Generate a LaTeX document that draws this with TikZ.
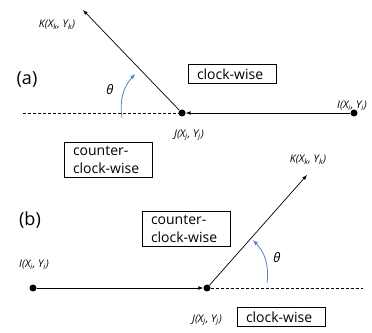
\documentclass[tikz,border=0pt]{standalone}
\usepackage{fontspec}
\setmainfont{Open Sans}
\usetikzlibrary{arrows}
\definecolor{arcblue}{RGB}{84,130,196}

\begin{document}
\begin{tikzpicture}[x=1pt,y=1pt,>=latex,
  dot/.style={circle,fill=black,inner sep=0pt,minimum size=7pt},
  box/.style={draw,line width=0.6pt,align=left,text width=70pt,inner xsep=9pt,inner ysep=4pt,font=\fontsize{14}{18}\selectfont},
  pt/.style={font=\fontsize{10.5}{12}\selectfont\itshape},
  ray/.style={->,line width=0.7pt},
  ext/.style={densely dashed,line width=0.5pt},
  ang/.style={->,arcblue,line width=0.8pt}]
\useasboundingbox (0,0) rectangle (372,332);

\node[] (La) at (27,252) {\fontsize{18}{20}\selectfont (a)};
\node[] (Lb) at (30,112) {\fontsize{18}{20}\selectfont (b)};

\node[dot] (Ja) at (182,219) {};
\node[dot] (Ia) at (354,219) {};
\coordinate (Ka) at (83,322);
\coordinate (Ea) at (23,219);
\coordinate (Sa) at (122,214);
\coordinate (Ta) at (135,258);

\node[dot] (Ib) at (33,44) {};
\node[dot] (Jb) at (207,44) {};
\coordinate (Kb) at (307,157);
\coordinate (Eb) at (363,44);
\coordinate (Sb) at (267,49);
\coordinate (Tb) at (253,92);

\node[pt] (KLa) at (57,307) {K(X\textsubscript{k}, Y\textsubscript{k})};
\node[pt] (JLa) at (189,197) {J(X\textsubscript{j}, Y\textsubscript{j})};
\node[pt] (ILa) at (352,226) {I(X\textsubscript{i}, Y\textsubscript{i})};
\node[pt] (KLb) at (308,172) {K(X\textsubscript{k}, Y\textsubscript{k})};
\node[pt] (JLb) at (207,12) {J(X\textsubscript{j}, Y\textsubscript{j})};
\node[pt] (ILb) at (34,67) {I(X\textsubscript{i}, Y\textsubscript{i})};

\node[box] (CWa) at (232,258) {clock-wise};
\node[box] (CCWa) at (108,172) {counter-\\clock-wise};
\node[box] (CCWb) at (186,103) {counter-\\clock-wise};
\node[box] (CWb) at (281,15) {clock-wise};

\node[] (THa) at (110,242) {\fontsize{13}{14}\selectfont\itshape θ};
\node[] (THb) at (277,74) {\fontsize{13}{14}\selectfont\itshape θ};

\draw[ext] (Ea) -- (Ja);
\draw[ray] (Ia) -- (Ja);
\draw[ray] (Ja) -- (Ka);
\draw[ang] (Sa) to[bend left=25] (Ta);

\draw[ext] (Jb) -- (Eb);
\draw[ray] (Ib) -- (Jb);
\draw[ray] (Jb) -- (Kb);
\draw[ang] (Sb) to[bend right=25] (Tb);
\end{tikzpicture}
\end{document}
